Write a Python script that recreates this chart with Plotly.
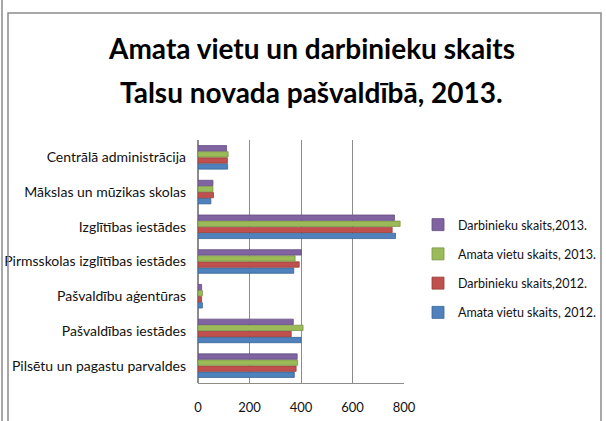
import plotly.graph_objects as go

categories = [
    "Pilsētu un pagastu parvaldes",
    "Pašvaldības iestādes",
    "Pašvaldību aģentūras",
    "Pirmsskolas izglītības iestādes",
    "Izglītības iestādes",
    "Mākslas un mūzikas skolas",
    "Centrālā administrācija",
]

series_names = [
    "Amata vietu skaits, 2012.",
    "Darbinieku skaits,2012.",
    "Amata vietu skaits, 2013.",
    "Darbinieku skaits,2013.",
]

amata_2012 = [374, 400, 17, 372, 767, 50, 115]
darbinieku_2012 = [381, 362, 14, 393, 754, 60, 114]
amata_2013 = [387, 408, 17, 377, 785, 58, 117]
darbinieku_2013 = [385, 370, 14, 401, 763, 58, 111]

series_values = [amata_2012, darbinieku_2012, amata_2013, darbinieku_2013]
colors = ["#4F81BD", "#C0504D", "#9BBB59", "#8064A2"]
line_colors = ["#3A6595", "#973C3A", "#7A9446", "#624C7F"]

x_ticks = [0, 200, 400, 600, 800]
title_lines = ["Amata vietu un darbinieku skaits", "Talsu novada pašvaldībā, 2013."]

FONT = "Lato"
L, R, T, B = 198, 202, 140, 38
W, H = 606, 421
PW, PH = W - L - R, H - T - B


def px(x):
    return (x - L) / PW


def py(y):
    return 1 - (y - T) / PH


fig = go.Figure()
n = len(series_names)
for i, (name, vals, c, lc) in enumerate(zip(series_names, series_values, colors, line_colors)):
    fig.add_trace(go.Bar(
        y=categories, x=vals, name=name, orientation="h",
        marker=dict(color=c, line=dict(color=lc, width=0.8)),
        legendgroup=name, legendrank=1000 + (n - i),
    ))

fig.update_layout(
    width=W, height=H,
    margin=dict(l=L, r=R, t=T, b=B, autoexpand=False),
    paper_bgcolor="white", plot_bgcolor="white",
    barmode="group", bargap=0.3, bargroupgap=0.12,
    font=dict(family=FONT, size=12, color="#111"),
    legend=dict(
        x=px(418), xanchor="left", y=py(210), yanchor="top",
        traceorder="grouped", tracegroupgap=10,
        font=dict(family=FONT, size=12.5, color="#111"),
        itemwidth=30, bgcolor="rgba(0,0,0,0)",
    ),
    showlegend=True,
)

for txt, ypx in zip(title_lines, [48, 92]):
    fig.add_annotation(
        text=f"<b>{txt}</b>", xref="paper", yref="paper",
        x=px(311), y=py(ypx), xanchor="center", yanchor="middle",
        showarrow=False, font=dict(family=FONT, size=28, color="black"),
    )

fig.update_xaxes(
    range=[0, 800], tickvals=x_ticks, showgrid=True, gridcolor="#8c8c8c", gridwidth=1,
    zeroline=True, zerolinecolor="#8c8c8c", showline=True, linecolor="#8c8c8c",
    ticks="", ticklabelstandoff=12, tickfont=dict(size=13, family=FONT, color="#111"),
)
fig.update_yaxes(
    categoryorder="array", categoryarray=categories,
    showgrid=False, ticks="", ticklabelstandoff=11,
    tickfont=dict(size=14, family=FONT, color="#111"),
)

# chart area border and outer page edge
fig.add_shape(type="rect", xref="paper", yref="paper",
              x0=px(8), x1=px(601), y0=py(430), y1=py(13),
              line=dict(color="#8a8a8a", width=1.5), fillcolor="rgba(0,0,0,0)", layer="above")
fig.add_shape(type="line", xref="paper", yref="paper",
              x0=px(2), x1=px(2), y0=py(430), y1=py(0),
              line=dict(color="#8a8a8a", width=1.5), layer="above")

fig.write_html("out.html", config={"displayModeBar": False},
               post_script="document.body.style.margin='0';document.body.style.overflow='hidden';")
